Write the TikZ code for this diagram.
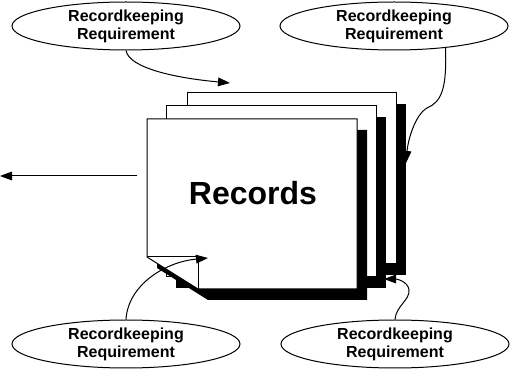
\documentclass[tikz,border=0pt]{standalone}
\usepackage{fontspec}
\setmainfont{Liberation Sans}
\usetikzlibrary{arrows.meta,shapes.geometric}

\tikzset{
  reqnode/.style={draw, ellipse, line width=0.75, minimum width=171pt, minimum height=36pt, inner sep=0pt, align=center, font=\fontsize{12}{13.5}\selectfont\bfseries},
  pageshadow/.style={fill=black, draw=none},
  pagesheet/.style={fill=white, draw=black, line width=0.75},
  reqarrow/.style={line width=0.75, -{Triangle[length=9pt,width=6.5pt]}}
}

\begin{document}
\begin{tikzpicture}[x=0.75pt,y=0.75pt,yscale=-1,xscale=1]
\useasboundingbox (0,0) rectangle (511,370);

%Back page
\path [pageshadow] (197,104) rectangle (406,275) ;
\path [pagesheet] (187,93) rectangle (396,264) ;
%Middle page
\path [pageshadow] (176,117) rectangle (386,288) ;
\path [pagesheet] (166,106) rectangle (376,277) ;
%Front page with folded corner
\path [pageshadow] (157,130) -- (367,130) -- (367,300) -- (208,300) -- (157,268) -- cycle ;
\path [pagesheet] (147,119) -- (357,119) -- (357,289) -- (198,289) -- (147,257) -- cycle ;
\draw [line width=0.75]  (147,257) -- (198,257) -- (198,289) ;

% Text Node
\node (rec) at (253,193) {\fontsize{24}{28}\selectfont\bfseries Records};

% Requirement ellipses
\node [reqnode] (rtl) at (126,26) {Recordkeeping\\Requirement};
\node [reqnode] (rtr) at (394,26) {Recordkeeping\\Requirement};
\node [reqnode] (rbl) at (126,344) {Recordkeeping\\Requirement};
\node [reqnode] (rbr) at (395,344) {Recordkeeping\\Requirement};

%Arrow ends
\coordinate (etl) at (230,83);
\coordinate (etr) at (406,163);
\coordinate (ebl) at (208,258);
\coordinate (ebr) at (384,279);
\coordinate (lstart) at (137,176);
\coordinate (lend) at (0,176);

%Curves
\draw [reqarrow] (rtl.south) .. controls (129,68) and (175,78) .. (etl) ;
\draw [reqarrow] (rtr.-23) .. controls (447,90) and (441,102) .. (427,108) .. controls (415,115) and (408,140) .. (etr) ;
\draw [reqarrow] (rbl.north) .. controls (128,285) and (165,262) .. (ebl) ;
\draw [reqarrow] (rbr.north) .. controls (396,306) and (410,300) .. (409,290) .. controls (408,281) and (396,279) .. (ebr) ;
%Straight Lines
\draw [reqarrow] (lstart) -- (lend) ;

\end{tikzpicture}
\end{document}
